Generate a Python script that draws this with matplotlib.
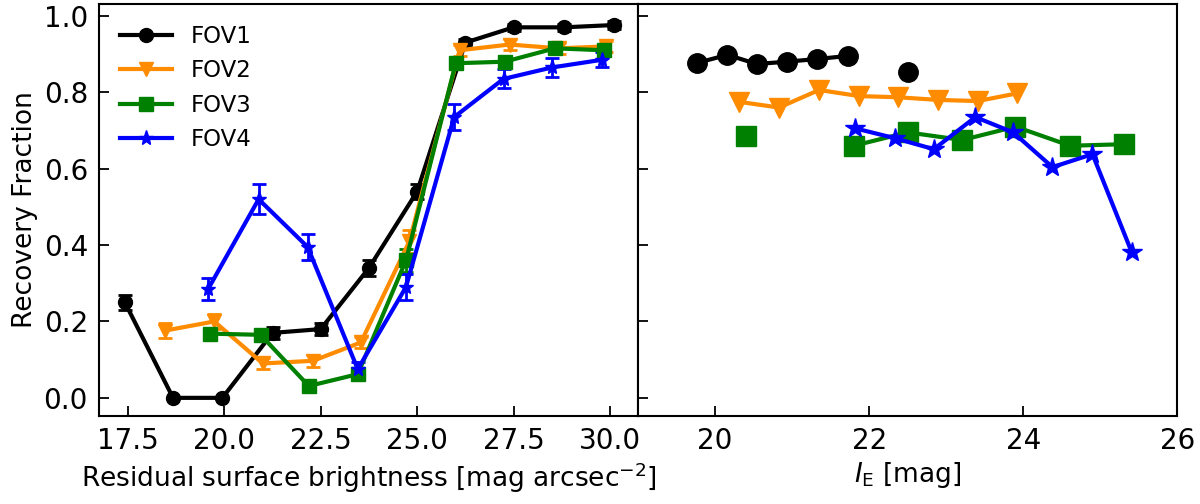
import numpy as np
import matplotlib
matplotlib.use("Agg")
import matplotlib.pyplot as plt

nan = np.nan

# left panel: recovery vs residual surface brightness
sb1 = [17.42, 18.67, 19.95, 21.25, 22.5, 23.75, 25.0, 26.25, 27.5, 28.8, 30.1]
rf1 = [0.25, 0.0, 0.0, 0.17, 0.18, 0.34, 0.54, 0.93, 0.97, 0.97, 0.976]
er1 = [0.02, 0.0, 0.0, 0.015, 0.015, 0.02, 0.02, 0.01, 0.01, 0.01, 0.01]

sb2 = [18.46, 19.74, 21.0, 22.3, 23.54, 24.8, 26.1, 27.4, 28.67, 29.9]
rf2 = [0.176, 0.20, 0.09, 0.097, 0.145, 0.41, 0.91, 0.925, 0.915, 0.92]
er2 = [0.02, 0.02, 0.015, 0.015, 0.015, 0.03, 0.015, 0.015, 0.015, 0.015]

sb3 = [19.64, 20.94, 22.19, 23.46, 24.71, 26.0, 27.27, 28.57, 29.84]
rf3 = [0.168, 0.165, 0.031, 0.062, 0.36, 0.876, 0.88, 0.915, 0.91]
er3 = [0.015, 0.015, 0.01, 0.01, 0.03, 0.015, 0.015, 0.015, 0.015]

sb4 = [19.58, 20.89, 22.16, 23.46, 24.71, 25.96, 27.24, 28.5, 29.79]
rf4 = [0.285, 0.52, 0.395, 0.075, 0.29, 0.735, 0.835, 0.865, 0.885]
er4 = [0.03, 0.04, 0.035, 0.02, 0.035, 0.035, 0.025, 0.025, 0.02]

# right panel: recovery vs I_E magnitude
mag1 = [19.77, 20.16, 20.54, 20.93, 21.32, 21.72, 22.11, 22.5]
fr1 = [0.877, 0.898, 0.874, 0.88, 0.887, 0.895, nan, 0.853]

mag2 = [20.31, 20.83, 21.35, 21.87, 22.37, 22.89, 23.41, 23.92]
fr2 = [0.775, 0.76, 0.806, 0.79, 0.787, 0.78, 0.777, 0.797]

mag3 = [20.40, 21.1, 21.8, 22.5, 23.21, 23.9, 24.61, 25.31]
fr3 = [0.685, nan, 0.66, 0.695, 0.675, 0.71, 0.66, 0.664]

mag4 = [21.81, 22.33, 22.84, 23.38, 23.87, 24.38, 24.9, 25.41]
fr4 = [0.706, 0.68, 0.651, 0.735, 0.695, 0.604, 0.638, 0.381]

labels = ["FOV1", "FOV2", "FOV3", "FOV4"]
colors = ["black", "darkorange", "green", "blue"]
markers = ["o", "v", "s", "*"]
ms_left = [10, 10, 10.5, 11]
ms_right = [14, 14, 14, 15]

plt.rcParams["font.size"] = 19

fig, (ax1, ax2) = plt.subplots(1, 2, sharey=True, figsize=(12, 5.04), dpi=100)
fig.subplots_adjust(left=0.0825, right=0.981, top=0.992, bottom=0.175, wspace=0)

left_x = [sb1, sb2, sb3, sb4]
left_y = [rf1, rf2, rf3, rf4]
left_e = [er1, er2, er3, er4]
handles = []
for x, y, e, lab, c, m, ms in zip(left_x, left_y, left_e, labels, colors, markers, ms_left):
    eb = ax1.errorbar(x, y, yerr=e, color=c, marker=m, ms=ms, lw=3,
                      capsize=5, capthick=2, elinewidth=2, label=lab)
    handles.append(eb.lines[0])

right_x = [mag1, mag2, mag3, mag4]
right_y = [fr1, fr2, fr3, fr4]
for x, y, c, m, ms in zip(right_x, right_y, colors, markers, ms_right):
    ax2.plot(x, y, color=c, marker=m, ms=ms, lw=3)

ax1.set_xlim(16.75, 30.73)
ax1.set_ylim(-0.047, 1.031)
ax1.set_xticks([17.5, 20.0, 22.5, 25.0, 27.5, 30.0])
ax1.set_yticks([0.0, 0.2, 0.4, 0.6, 0.8, 1.0])
ax1.set_xlabel(r"Residual surface brightness [mag arcsec$^{-2}$]", fontsize=19)
ax1.set_ylabel("Recovery Fraction", fontsize=19)
ax1.legend(handles, labels, loc="upper left", frameon=False, fontsize=16.5,
           handlelength=2.3)

ax2.set_xlim(19.0, 26.0)
ax2.set_xticks([20, 22, 24, 26])
ax2.set_xlabel(r"$I_{\rm E}$ [mag]", fontsize=19)

for ax in (ax1, ax2):
    ax.tick_params(direction="in", length=7, width=1.3, labelsize=20, pad=8)
    for s in ax.spines.values():
        s.set_linewidth(1.5)

plt.savefig("out.png")
